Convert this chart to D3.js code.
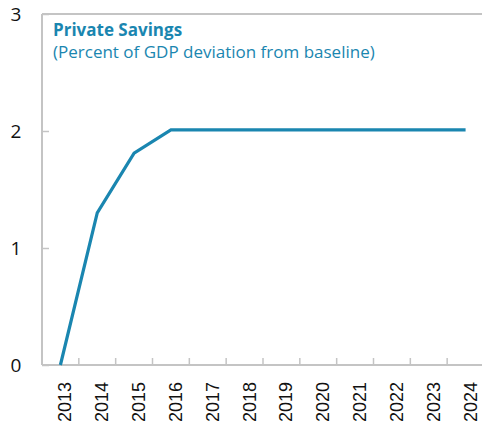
<!DOCTYPE html>
<html><head><meta charset="utf-8">
<script src="https://cdn.jsdelivr.net/npm/d3@7"></script>
<style>body{margin:0;background:#fff}svg{display:block}</style>
</head><body>
<svg id="c" width="482" height="423"></svg>
<script>
const years = ["2013","2014","2015","2016","2017","2018","2019","2020","2021","2022","2023","2024"];
const privateSavings = [0, 1.30, 1.81, 2.01, 2.01, 2.01, 2.01, 2.01, 2.01, 2.01, 2.01, 2.01];
const yTicks = [0, 1, 2, 3];
const titleText = "Private Savings";
const subtitleText = "(Percent of GDP deviation from baseline)";

(function () {
const svg = d3.select("#c");
const mLeft = 42, mRight = 484, mTop = 14, mBottom = 365;
const blue = "#1a86b0", grid = "#c4c4c4";

const x = d3.scaleBand().domain(years).range([mLeft, mRight]);
const y = d3.scaleLinear().domain([0, 3]).range([mBottom, mTop]);

// frame lines
svg.append("line").attr("x1", mLeft).attr("x2", 482).attr("y1", mTop).attr("y2", mTop)
  .attr("stroke", grid).attr("stroke-width", 2);

// y axis
const ya = svg.append("g").attr("transform", `translate(${mLeft},0)`)
  .call(d3.axisRight(y).tickValues(yTicks).tickSize(7).tickFormat(""));
ya.select(".domain").attr("stroke", grid).attr("stroke-width", 2).attr("d", `M0,${mBottom}V${mTop}`);
ya.selectAll(".tick line").attr("stroke", grid).attr("stroke-width", 1.5);
svg.append("g").selectAll("text").data(yTicks).join("text")
  .attr("x", 16).attr("y", d => y(d)).attr("dy", "0.36em")
  .attr("text-anchor", "middle")
  .attr("font-family", "Open Sans, sans-serif").attr("font-size", 19).attr("fill", "#111")
  .text(d => d);

// x axis
const xa = svg.append("g").attr("transform", `translate(0,${mBottom})`)
  .call(d3.axisBottom(x).tickSize(0).tickFormat(""));
xa.select(".domain").attr("stroke", grid).attr("stroke-width", 2).attr("d", `M${mLeft},0H482`);
xa.selectAll(".tick").remove();
const bounds = years.slice(1).map(d => x(d));
svg.append("g").selectAll("line").data(bounds).join("line")
  .attr("x1", d => d).attr("x2", d => d).attr("y1", mBottom).attr("y2", mBottom - 7)
  .attr("stroke", grid).attr("stroke-width", 1.5);
svg.append("g").selectAll("text").data(years).join("text")
  .attr("transform", d => `translate(${x(d) + x.bandwidth() / 2 + 11},${mBottom + 17}) rotate(-90)`)
  .attr("text-anchor", "end")
  .attr("font-family", "Liberation Sans, Arial, sans-serif").attr("font-size", 18).attr("fill", "#111")
  .text(d => d);

// line
const line = d3.line().x((d, i) => x(years[i]) + x.bandwidth() / 2).y(d => y(d));
svg.append("path").datum(privateSavings).attr("d", line)
  .attr("fill", "none").attr("stroke", blue).attr("stroke-width", 3.2).attr("stroke-linejoin", "miter");

// titles
svg.append("text").attr("x", 53).attr("y", 36).attr("font-family", "Open Sans, sans-serif")
  .attr("font-weight", "bold").attr("font-size", 17).attr("fill", blue).text(titleText);
svg.append("text").attr("x", 53).attr("y", 58).attr("font-family", "Open Sans, sans-serif")
  .attr("font-size", 17).attr("fill", blue).text(subtitleText);
})();
</script>
</body></html>
